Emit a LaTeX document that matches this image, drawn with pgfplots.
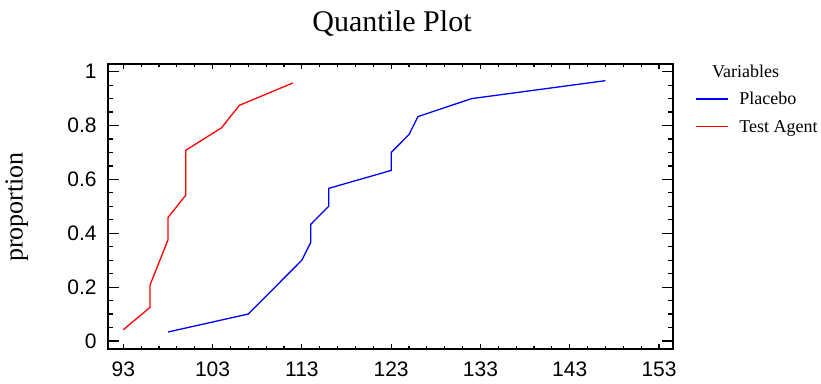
\documentclass[border=0pt]{standalone}
\usepackage{pgfplots}
\pgfplotsset{compat=1.18}
\usepackage{fontspec}
\setmainfont{Liberation Serif}
\newfontfamily\arial{Liberation Sans}
\pgfplotstableread{
x y
98 0.0333
107 0.1
109 0.1667
111 0.2333
113 0.3
114 0.3667
114 0.4333
116 0.5
116 0.5667
123 0.6333
123 0.7
125 0.7667
126 0.8333
132 0.9
147 0.9667
}\placebo
\pgfplotstableread{
x y
93 0.0417
96 0.125
96 0.2083
97 0.2917
98 0.375
98 0.4583
100 0.5417
100 0.625
100 0.7083
104 0.7917
106 0.875
112 0.9583
}\testagent
\begin{document}
\begin{tikzpicture}[x=1pt,y=1pt]
\useasboundingbox (0,0) rectangle (821,383);
\begin{axis}[at={(108.3pt,33.7pt)}, anchor=south west, scale only axis,
  width=565pt, height=285pt,
  xmin=91.32, xmax=154.6, ymin=-0.031, ymax=1.0275,
  xtick={93,103,113,123,133,143,153},
  ytick={0,0.2,0.4,0.6,0.8,1},
  minor x tick num=4, minor y tick num=3,
  tick align=inside, major tick length=11pt, minor tick length=5pt,
  xtick style={/pgfplots/major tick length=5pt, /pgfplots/minor tick length=3pt},
  axis line style={line width=1.8pt},
  tick style={line width=1.2pt, black},
  /pgf/number format/assume math mode=true,
  tick label style={font=\arial\fontsize{21}{21}\selectfont},
  xticklabel style={inner sep=0pt, yshift=-12.5pt},
  yticklabel style={inner sep=0pt, xshift=-11.5pt},
  legend cell align=left,
  legend image code/.code={\draw[#1] (0pt,0pt) -- (32pt,0pt);},
  legend style={draw=none, fill=none, inner sep=0pt, outer sep=0pt,
    at={(axis description cs:1.0384,0.8993)}, anchor=north west,
    row sep=15.7pt, column sep=11pt,
    font=\fontsize{18}{18}\selectfont,
    nodes={inner sep=0pt, text height=12pt, text depth=0pt}},
]
\addplot[blue, line width=1.3pt] table[x=x,y=y] {\placebo};
\addlegendentry{Placebo}
\addplot[red, line width=1.3pt] table[x=x,y=y] {\testagent};
\addlegendentry{Test Agent}
\end{axis}
\node[anchor=base, font=\fontsize{30}{30}\selectfont] at (392,351.3) {Quantile Plot};
\node[anchor=base, rotate=90, font=\fontsize{26}{26}\selectfont] at (22.5,176) {proportion};
\node[anchor=base, font=\fontsize{18}{18}\selectfont] at (745.5,305) {Variables};
\end{tikzpicture}
\end{document}
